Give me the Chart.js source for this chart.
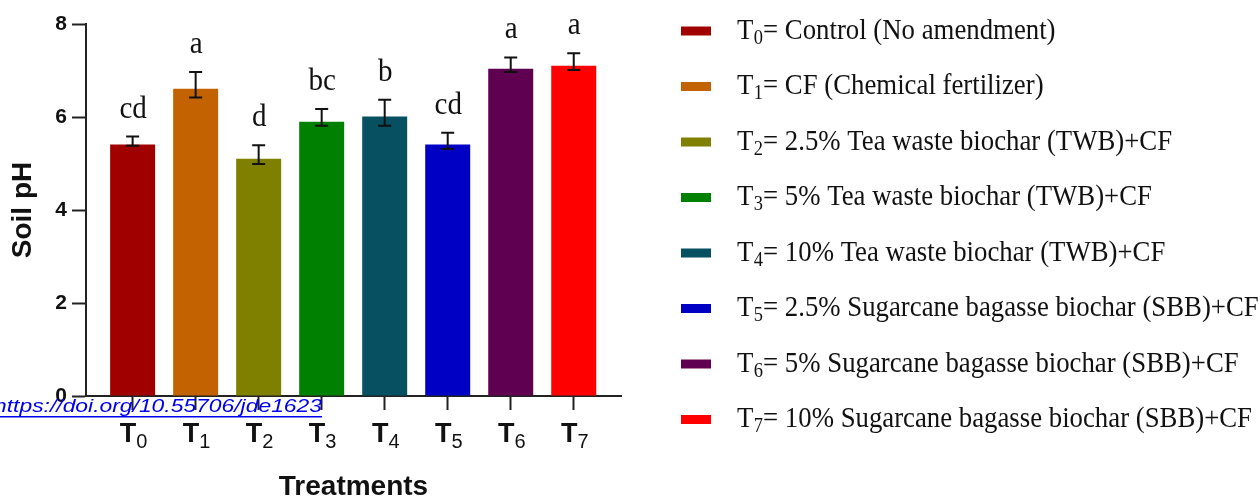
<!DOCTYPE html>
<html><head><meta charset="utf-8">
<script src="https://cdn.jsdelivr.net/npm/chart.js@4.4.1/dist/chart.umd.min.js"></script>
<style>html,body{margin:0;padding:0;background:#fff;overflow:hidden}canvas{display:block}</style>
</head><body>
<canvas id="c" width="1260" height="499"></canvas>
<script>
// ---- data ----
const treatmentSubs = ["0","1","2","3","4","5","6","7"];
const meanPH  = [5.41, 6.61, 5.10, 5.90, 6.01, 5.41, 7.04, 7.10];
const errHigh = [5.58, 6.97, 5.39, 6.17, 6.37, 5.66, 7.28, 7.37];
const errLow  = [5.38, 6.42, 4.99, 5.81, 5.81, 5.31, 6.97, 7.01];
const sigLetters = ["cd","a","d","bc","b","cd","a","a"];
const descriptions = [
  "Control (No amendment)",
  "CF (Chemical fertilizer)",
  "2.5% Tea waste biochar (TWB)+CF",
  "5% Tea waste biochar (TWB)+CF",
  "10% Tea waste biochar (TWB)+CF",
  "2.5% Sugarcane bagasse biochar (SBB)+CF",
  "5% Sugarcane bagasse biochar (SBB)+CF",
  "10% Sugarcane bagasse biochar (SBB)+CF"
];
const yTickValues = [0, 2, 4, 6, 8];
const doiText = "https://doi.org/10.55706/jde1623";

// ---- styles ----
const barColors = ["#A00000","#C26200","#808000","#008000","#075061","#0000C4","#600050","#FF0000"];

function drawScaled(ctx, s, x, y, font, color, align, sx, sy){
  ctx.save();
  ctx.font = font; ctx.fillStyle = color; ctx.textAlign = align; ctx.textBaseline = 'alphabetic';
  ctx.translate(x, y); ctx.scale(sx || 1, sy || 1);
  ctx.fillText(s, 0, 0);
  ctx.restore();
}

const overlay = {
  id: 'overlay',
  afterDatasetsDraw(chart){
    const ctx = chart.ctx;
    const ys = chart.scales.y;
    const meta = chart.getDatasetMeta(0);
    // error bars
    ctx.save();
    ctx.strokeStyle = '#111'; ctx.lineWidth = 2;
    meta.data.forEach((el, i) => {
      const x = el.x, yh = ys.getPixelForValue(errHigh[i]), yl = ys.getPixelForValue(errLow[i]);
      ctx.beginPath();
      ctx.moveTo(x, yh); ctx.lineTo(x, yl);
      ctx.moveTo(x - 6.5, yh); ctx.lineTo(x + 6.5, yh);
      ctx.moveTo(x - 6.5, yl); ctx.lineTo(x + 6.5, yl);
      ctx.stroke();
    });
    ctx.restore();
    // significance letters
    meta.data.forEach((el, i) => {
      const yh = ys.getPixelForValue(errHigh[i]);
      drawScaled(ctx, sigLetters[i], el.x + 0.5, yh - 19, '30px "Liberation Serif"', '#111', 'center', 0.97, 1.05);
    });
  },
  afterDraw(chart){
    const ctx = chart.ctx;
    const meta = chart.getDatasetMeta(0);
    // x tick labels T with subscript
    meta.data.forEach((el, i) => {
      ctx.save();
      ctx.font = 'bold 27px "Liberation Sans"';
      const wT = ctx.measureText('T').width;
      ctx.font = '20px "Liberation Sans"';
      const wS = ctx.measureText(treatmentSubs[i]).width;
      ctx.restore();
      const x0 = el.x - (wT + wS) / 2 + 1;
      drawScaled(ctx, 'T', x0, 441.5, 'bold 27px "Liberation Sans"', '#111', 'left');
      drawScaled(ctx, treatmentSubs[i], x0 + wT, 448, '20px "Liberation Sans"', '#111', 'left');
    });
    // legend
    const fMain = '29px "Liberation Serif"', fSub = '20px "Liberation Serif"';
    ctx.save();
    ctx.font = fMain;
    const w0T = ctx.measureText('T').width;
    const w0R = ctx.measureText('= ' + descriptions[0]).width;
    ctx.font = fSub;
    const w0S = ctx.measureText(treatmentSubs[0]).width;
    ctx.restore();
    const sx = 318 / (w0T + w0S + w0R);
    descriptions.forEach((d, i) => {
      const cy = 31 + 55.5 * i;
      ctx.fillStyle = barColors[i];
      ctx.fillRect(681, cy - 4.5, 30, 9);
      ctx.save(); ctx.font = fMain; const wT = ctx.measureText('T').width * sx;
      ctx.font = fSub; const wS = ctx.measureText(treatmentSubs[i]).width * sx; ctx.restore();
      const x0 = 737, base = cy + 7.5;
      drawScaled(ctx, 'T', x0, base, fMain, '#111', 'left', sx, 1);
      drawScaled(ctx, treatmentSubs[i], x0 + wT + 0.5, base + 5, fSub, '#111', 'left', sx, 1);
      drawScaled(ctx, '= ' + d, x0 + wT + wS + 0.5, base, fMain, '#111', 'left', sx, 1);
    });
    // doi link
    ctx.save();
    ctx.font = 'italic 18.5px "Liberation Sans"';
    const wd = ctx.measureText(doiText).width;
    ctx.restore();
    drawScaled(ctx, doiText, -6, 411.5, 'italic 18.5px "Liberation Sans"', '#0000F0', 'left', 328 / wd, 1);
    ctx.fillStyle = '#0000F0';
    ctx.fillRect(0, 416, 322, 1.5);
  }
};

new Chart(document.getElementById('c').getContext('2d'), {
  type: 'bar',
  data: {
    datasets: [{
      data: meanPH.map((v, i) => ({ x: i, y: v })),
      backgroundColor: barColors,
      borderWidth: 0,
      barPercentage: 0.714,
      categoryPercentage: 1
    }]
  },
  options: {
    responsive: false,
    animation: false,
    devicePixelRatio: 1,
    layout: { padding: { left: 0, top: 24, right: 639, bottom: 0 } },
    plugins: { legend: { display: false }, tooltip: { enabled: false } },
    scales: {
      x: {
        type: 'linear', min: -0.74, max: 7.75, offset: false,
        afterBuildTicks: s => { s.ticks = treatmentSubs.map((t, i) => ({ value: i })); },
        ticks: { display: false },
        grid: { offset: false, drawOnChartArea: false, drawTicks: true, tickLength: 14, tickWidth: 2, color: '#222' },
        border: { display: true, width: 2, color: '#222' },
        title: { display: true, text: 'Treatments', color: '#111', padding: 0,
                 font: { family: 'Liberation Sans', weight: 'bold', size: 28, lineHeight: 0.85 } },
        afterFit: s => { s.height = 103; }
      },
      y: {
        min: 0, max: 8,
        afterBuildTicks: s => { s.ticks = yTickValues.map(v => ({ value: v })); },
        ticks: { color: '#111', padding: 5, font: { family: 'Liberation Sans', weight: 'bold', size: 21 },
                 callback: v => String(v) },
        grid: { drawOnChartArea: false, tickLength: 14, tickWidth: 2, color: '#222' },
        border: { display: true, width: 2, color: '#222' },
        title: { display: true, text: 'Soil pH', color: '#111', padding: { top: 6, bottom: 0 },
                 font: { family: 'Liberation Sans', weight: 'bold', size: 28 } },
        afterFit: s => { s.width = 86; }
      }
    }
  },
  plugins: [overlay]
});
</script>
</body></html>
